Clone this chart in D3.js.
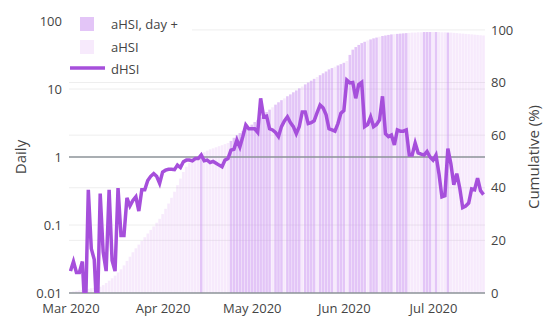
<!DOCTYPE html>
<html>
<head>
<meta charset="utf-8">
<script src="https://cdn.jsdelivr.net/npm/d3@7"></script>
<style>
  body { margin: 0; background: #fff; }
  text { font-family: "Open Sans", sans-serif; }
</style>
</head>
<body>
<svg id="chart" width="550" height="323"></svg>
<script>
// daily values (log axis) and cumulative % (right axis), one per day from Mar 1 2020
var startDate = '2020-03-01';
var dHSI = [
  0.021, 0.029, 0.020, 0.020, 0.029, 0.004, 0.33, 0.045, 0.031, 0.004,
  0.29, 0.04, 0.021, 0.33, 0.03, 0.021, 0.35, 0.07, 0.07, 0.25,
  0.19, 0.23, 0.26, 0.16, 0.33, 0.33, 0.45, 0.52, 0.57, 0.52,
  0.41, 0.6, 0.64, 0.66, 0.66, 0.65, 0.76, 0.7, 0.85, 0.9,
  0.9, 0.88, 0.95, 0.95, 1.07, 0.88, 0.9, 0.83, 0.86, 0.81,
  0.76, 0.72, 0.9, 0.95, 1.26, 1.3, 1.78, 1.4, 2.0, 2.96,
  2.6, 2.6, 2.6, 2.3, 7.3, 3.9, 4.0, 2.6, 2.5, 2.3,
  2.0, 2.8, 3.4, 3.9, 3.2, 2.8, 2.2, 2.8, 4.6, 4.6,
  3.1, 3.2, 3.4, 4.5, 5.8, 5.3, 4.2, 2.6, 2.5, 2.4,
  3.1, 4.4, 4.8, 13.5, 12.3, 12.5, 7.3, 11.6, 12.5, 2.8,
  3.0, 3.9, 2.8, 3.0, 3.5, 7.8, 2.2, 2.0, 2.1, 1.5,
  2.5, 2.4, 2.4, 2.5, 1.07, 1.07, 1.6, 1.15, 1.1, 1.07,
  1.2, 1.0, 0.9, 1.07, 0.57, 0.26, 0.27, 1.33, 0.8, 0.39,
  0.57, 0.35, 0.18, 0.19, 0.21, 0.34, 0.33, 0.49, 0.32, 0.28
];
var aHSI = [
  0.4, 0.6, 0.8, 1.0, 1.2, 1.3, 1.6, 1.8, 2.0, 2.1,
  2.4, 3.0, 3.8, 4.7, 5.6, 6.6, 7.8, 9.0, 10.5, 12.2,
  13.8, 15.5, 17.0, 18.4, 19.8, 21.2, 22.6, 24.0, 25.3, 26.7,
  28.2, 30.0, 32.0, 34.0, 36.2, 38.5, 41.0, 43.5, 46.0, 48.0,
  49.5, 50.5, 51.2, 52.0, 52.8, 53.5, 54.1, 54.6, 55.0, 55.4,
  55.8, 56.2, 56.6, 57.0, 57.8, 59.0, 60.0, 60.8, 61.6, 62.4,
  63.0, 64.0, 65.0, 65.8, 66.8, 67.8, 68.8, 69.7, 70.6, 71.6,
  72.5, 73.3, 74.0, 74.8, 75.5, 76.3, 77.0, 77.8, 78.5, 79.3,
  80.0, 80.7, 81.4, 82.1, 82.8, 83.5, 84.2, 85.0, 85.5, 86.0,
  86.5, 87.0, 87.5, 88.2, 90.5, 92.5, 93.5, 94.3, 95.0, 95.5,
  96.0, 96.4, 96.8, 97.1, 97.4, 97.7, 97.9, 98.1, 98.3, 98.4,
  98.5, 98.6, 98.7, 98.8, 98.9, 99.0, 99.0, 99.1, 99.1, 99.2,
  99.2, 99.2, 99.2, 99.2, 99.2, 99.1, 99.1, 99.0, 99.0, 98.9,
  98.8, 98.7, 98.6, 98.5, 98.4, 98.3, 98.2, 98.1, 98.0, 97.9
];
// day indexes drawn as "aHSI, day +"
var dayPlus = [44,
  54, 55, 56, 57, 58, 59, 60, 61, 62, 63, 64, 65, 66, 67, 69, 70, 71, 73, 74, 75, 76, 77,
  79, 80, 81, 82, 84, 85, 86, 87, 88, 90, 91, 92, 94, 95, 96, 97, 98, 99, 101, 102, 103,
  105, 106, 107, 108, 110, 111, 112, 113, 119, 120, 121, 123, 127];

var leftTicks = [0.01, 0.1, 1, 10, 100];
var leftTickLabels = ['0.01', '0.1', '1', '10', '100'];
var rightTicks = [0, 20, 40, 60, 80, 100];
var monthTicks = ['2020-03-01', '2020-04-01', '2020-05-01', '2020-06-01', '2020-07-01'];
var monthLabels = ['Mar 2020', 'Apr 2020', 'May 2020', 'Jun 2020', 'Jul 2020'];

var plot = { left: 69, right: 485, top: 21, bottom: 293 };
var textColor = '#444';
var lineColor = '#a64fdb';
var lightBar = 'rgba(215, 150, 240, 0.2)';
var darkBar = 'rgba(200, 140, 240, 0.5)';

var svg = d3.select('#chart');
var start = new Date(startDate + 'T00:00:00Z');
var days = dHSI.map(function(d, i) { return d3.utcDay.offset(start, i); });
var plusSet = new Set(dayPlus);

var x = d3.scaleUtc()
  .domain([d3.utcHour.offset(start, -12), d3.utcHour.offset(days[days.length - 1], 12)])
  .range([plot.left, plot.right]);
var yL = d3.scaleLog().domain([0.01, 100]).range([plot.bottom, plot.top]);
var yR = d3.scaleLinear().domain([0, 103.4]).range([plot.bottom, plot.top]);

svg.append('defs').append('clipPath').attr('id', 'clip')
  .append('rect')
  .attr('x', plot.left).attr('y', plot.top)
  .attr('width', plot.right - plot.left).attr('height', plot.bottom - plot.top);

// grid
var grid = svg.append('g').attr('stroke', '#eee').attr('stroke-width', 1);
[0.1, 10].forEach(function(t) {
  grid.append('line').attr('x1', plot.left).attr('x2', plot.right)
    .attr('y1', yL(t)).attr('y2', yL(t));
});
rightTicks.slice(1).forEach(function(t) {
  grid.append('line').attr('x1', plot.left).attr('x2', plot.right)
    .attr('y1', yR(t)).attr('y2', yR(t));
});

// cumulative bars
var dayW = x(days[1]) - x(days[0]);
var barW = dayW * 0.86;
svg.append('g').selectAll('rect')
  .data(aHSI)
  .enter().append('rect')
  .attr('x', function(d, i) { return x(days[i]) - barW / 2; })
  .attr('y', function(d) { return yR(d); })
  .attr('width', barW)
  .attr('height', function(d) { return plot.bottom - yR(d); })
  .attr('fill', function(d, i) { return plusSet.has(i) ? darkBar : lightBar; });

// zero lines
var zl = svg.append('g').attr('stroke', '#8c9399').attr('stroke-width', 1.5);
zl.append('line').attr('x1', plot.left).attr('x2', plot.right)
  .attr('y1', yL(1)).attr('y2', yL(1));
zl.append('line').attr('x1', plot.left).attr('x2', plot.right)
  .attr('y1', yR(0)).attr('y2', yR(0));

// legend background
svg.append('rect').attr('x', 66).attr('y', 10).attr('width', 126).attr('height', 70)
  .attr('fill', '#fff');

// daily line
var line = d3.line()
  .x(function(d, i) { return x(days[i]); })
  .y(function(d) { return yL(d); });
svg.append('path')
  .datum(dHSI)
  .attr('clip-path', 'url(#clip)')
  .attr('fill', 'none')
  .attr('stroke', lineColor)
  .attr('stroke-width', 3.5)
  .attr('d', line);

// axes
function styleAxis(g) {
  g.select('.domain').remove();
  g.selectAll('text').attr('fill', textColor).style('font-size', '13px')
    .style('font-family', '"Open Sans", sans-serif');
}
svg.append('g')
  .attr('transform', 'translate(' + plot.left + ',0)')
  .call(d3.axisLeft(yL).tickValues(leftTicks)
    .tickFormat(function(d, i) { return leftTickLabels[i]; })
    .tickSize(0).tickPadding(7))
  .call(styleAxis);
svg.append('g')
  .attr('transform', 'translate(' + plot.right + ',0)')
  .call(d3.axisRight(yR).tickValues(rightTicks).tickSize(0).tickPadding(6))
  .call(styleAxis);
svg.append('g')
  .attr('transform', 'translate(0,' + plot.bottom + ')')
  .call(d3.axisBottom(x)
    .tickValues(monthTicks.map(function(m) { return new Date(m + 'T00:00:00Z'); }))
    .tickFormat(function(d, i) { return monthLabels[i]; })
    .tickSize(0).tickPadding(11))
  .call(styleAxis);

// axis titles
svg.append('text')
  .attr('transform', 'translate(26,157) rotate(-90)')
  .attr('text-anchor', 'middle')
  .attr('fill', textColor).style('font-size', '15px')
  .text('Daily');
svg.append('text')
  .attr('transform', 'translate(539,157) rotate(-90)')
  .attr('text-anchor', 'middle')
  .attr('fill', textColor).style('font-size', '15px')
  .text('Cumulative (%)');

// legend
var legend = svg.append('g');
var items = [
  { label: 'aHSI, day +', type: 'bar', color: darkBar, y: 24 },
  { label: 'aHSI', type: 'bar', color: lightBar, y: 47 },
  { label: 'dHSI', type: 'line', color: lineColor, y: 69 }
];
items.forEach(function(it) {
  if (it.type === 'bar') {
    legend.append('rect').attr('x', 80).attr('y', it.y - 7)
      .attr('width', 14).attr('height', 14).attr('fill', it.color);
  } else {
    legend.append('line').attr('x1', 70).attr('x2', 105)
      .attr('y1', it.y - 1).attr('y2', it.y - 1)
      .attr('stroke', it.color).attr('stroke-width', 3.5);
  }
  legend.append('text').attr('x', 111).attr('y', it.y + 4.5)
    .attr('fill', textColor).style('font-size', '13px')
    .text(it.label);
});
</script>
</body>
</html>
